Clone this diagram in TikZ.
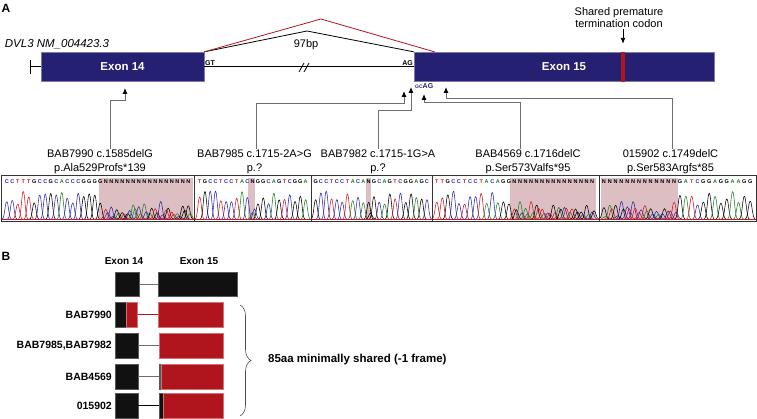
\documentclass[tikz,border=0pt]{standalone}
\usepackage{fontspec}
\setmainfont{Liberation Sans}
\usetikzlibrary{arrows.meta,decorations.pathreplacing}

\definecolor{exonblue}{RGB}{37,32,114}
\definecolor{stopred}{RGB}{176,21,29}
\definecolor{seqshade}{RGB}{221,191,195}
\definecolor{colA}{RGB}{30,125,40}
\definecolor{colC}{RGB}{40,40,170}
\definecolor{colG}{RGB}{0,0,0}
\definecolor{colT}{RGB}{210,20,30}
\definecolor{colN}{RGB}{0,0,0}
\definecolor{boxblack}{RGB}{17,17,17}
\definecolor{legray}{RGB}{110,110,110}

\pgfmathdeclarerandomlist{peakcols}{{colA}{colC}{colG}{colT}}

% one chromatogram peak: x, half width, height, colour
\newcommand{\peakat}[4]{%
  \draw[peak, color=#4] ({#1-#2},219) .. controls ({#1-0.45*#2},219) and ({#1-0.35*#2},{219-#3}) .. ({#1},{219-#3}) .. controls ({#1+0.35*#2},{219-#3}) and ({#1+0.45*#2},219) .. ({#1+#2},219);}

% bases and trace of one panel: start x, spacing, bases
\newcommand{\seqtrace}[3]{%
  \foreach \b [count=\i] in {#3} {
    \pgfmathsetmacro{\xx}{#1+(\i-0.5)*#2}
    \pgfmathsetmacro{\hw}{0.85*#2}
    \node[basetxt, text=col\b] at (\xx,182) {\b};
    \if\b N
      \pgfmathrandomitem{\pa}{peakcols}
      \pgfmathrandomitem{\pb}{peakcols}
      \pgfmathsetmacro{\ha}{5+13*rnd}
      \pgfmathsetmacro{\hb}{3+8*rnd}
      \pgfmathsetmacro{\xb}{\xx+0.35*#2}
      \peakat{\xx}{\hw}{\ha}{\pa}
      \peakat{\xb}{\hw}{\hb}{\pb}
    \else
      \pgfmathsetmacro{\ha}{14+14*rnd}
      \peakat{\xx}{\hw}{\ha}{col\b}
    \fi
  }
}

\tikzset{
  exon/.style={fill=exonblue, draw=exonblue!60, inner sep=0pt, minimum height=29.5pt,
    text=white, font=\fontsize{11.5}{12}\selectfont\bfseries},
  mutlabel/.style={align=center, inner sep=1pt, font=\fontsize{11}{14}\selectfont},
  mutarrow/.style={draw=legray, line width=0.9pt, -{Latex[length=6pt,width=5pt,color=black]}},
  sitetxt/.style={inner sep=0pt, font=\fontsize{7}{7}\selectfont\bfseries},
  basetxt/.style={inner sep=0pt, font=\fontsize{5.5}{5.5}\selectfont\bfseries},
  peak/.style={line width=0.55pt, line join=round},
  panel/.style={draw=black!80, line width=0.6pt},
  blk/.style={fill=boxblack, draw=boxblack!70, inner sep=0pt, minimum height=24.5pt, anchor=west},
  redbox/.style={fill=stopred, draw=stopred!60, inner sep=0pt, minimum height=24.5pt, anchor=west},
  rowlabel/.style={anchor=east, inner sep=0pt, font=\fontsize{10.5}{12}\selectfont\bfseries},
  hdr/.style={inner sep=0pt, font=\fontsize{10}{12}\selectfont\bfseries},
  panellabel/.style={inner sep=0pt, font=\fontsize{12}{12}\selectfont\bfseries}
}

\begin{document}
\begin{tikzpicture}[x=1pt,y=-1pt]
\useasboundingbox (0,0) rectangle (757,419);
\pgfmathsetseed{42}

% ---- panel A: gene model
\node[panellabel] (labA) at (6,8.5) {A};
\node[inner sep=0pt, font=\fontsize{11.5}{12}\selectfont\itshape] (gene) at (57,44.5) {DVL3 NM\_004423.3};

\node[exon, minimum width=163pt] (ex14) at (122.5,66.8) {Exon 14};
\node[exon, minimum width=300pt] (ex15) at (564,66.8) {Exon 15};
\node[fill=stopred, inner sep=0pt, minimum width=4pt, minimum height=29.5pt] (stopbar) at (623,66.8) {};

\coordinate (tss) at (30,66.8);
\draw[line width=0.8pt] (30,60) -- (30,74);
\draw[line width=0.8pt] (tss) -- (ex14.west);
\draw[line width=0.9pt] (ex14.east) -- (ex15.west);
\draw[line width=0.8pt] (299,72) -- (304,63) (304,72) -- (309,63);

\node[sitetxt, anchor=west] (gt) at (205,63.5) {GT};
\node[sitetxt, anchor=east] (ag) at (413,63.5) {AG};
\node[sitetxt, anchor=west, text=exonblue] (gcag) at (415,86) {{\fontsize{5}{5}\selectfont GC}AG};

% splicing
\coordinate (blackpeak) at (307,31);
\coordinate (redpeak) at (321,19);
\coordinate (redend) at (435,52);
\draw[line width=0.8pt] (ex14.north east) -- (blackpeak) -- (ex15.north west);
\draw[stopred, line width=0.8pt] (ex14.north east) -- (redpeak) -- (redend);
\node[mutlabel] (intron) at (306,44.5) {97bp};

\node[mutlabel, font=\fontsize{11}{12}\selectfont] (stopnote) at (619,18) {Shared premature\\termination codon};
\draw[line width=0.9pt, -{Latex[length=6pt,width=5pt]}] (stopnote.south -| stopbar) -- ([yshift=8pt]stopbar.north);

% ---- mutations
\node[mutlabel] (m7990) at (100,162) {BAB7990 c.1585delG\\p.Ala529Profs*139};
\node[mutlabel] (m7985) at (254.5,162) {BAB7985 c.1715-2A>G\\p.?};
\node[mutlabel] (m7982) at (378,162) {BAB7982 c.1715-1G>A\\p.?};
\node[mutlabel] (m4569) at (528,162) {BAB4569 c.1716delC\\p.Ser573Valfs*95};
\node[mutlabel] (m5902) at (670.5,162) {015902 c.1749delC\\p.Ser583Argfs*85};

\coordinate (s7990) at (110,100);  \coordinate (t7990) at (125,88);
\coordinate (s7985) at (256,103);  \coordinate (t7985) at (404,91);
\coordinate (s7982) at (378,110);  \coordinate (t7982) at (411,87);
\coordinate (s4569) at (520,102);  \coordinate (t4569) at (424,94);
\coordinate (s5902) at (672,98);   \coordinate (t5902) at (446,87);

\draw[mutarrow] (m7990.north -| s7990) -- (s7990) -| (t7990);
\draw[mutarrow] (m7985.north -| s7985) -- (s7985) -| (t7985);
\draw[mutarrow] (m7982.north -| s7982) -- (s7982) -| (t7982);
\draw[mutarrow] (m4569.north -| s4569) -- (s4569) -| (t4569);
\draw[mutarrow] (m5902.north -| s5902) -- (s5902) -| (t5902);

% ---- chromatograms
\fill[seqshade] (99,178) rectangle (193,220);
\fill[seqshade] (248,178) rectangle (255,220);
\fill[seqshade] (366,178) rectangle (371,220);
\fill[seqshade] (510,178) rectangle (596,220);
\fill[seqshade] (601,178) rectangle (678,220);

\seqtrace{4}{5.5}{C,C,T,T,T,G,C,C,G,C,A,C,C,C,G,G,G,G,N,N,N,N,N,N,N,N,N,N,N,N,N,N,N,N}
\seqtrace{197}{5.3}{T,G,C,C,T,C,C,T,A,C,N,G,G,C,A,G,T,C,G,G,A}
\seqtrace{313}{5.3}{G,C,C,T,C,C,T,A,C,A,N,G,C,A,G,T,C,G,G,A,G,C}
\seqtrace{434}{5.55}{T,T,G,C,C,T,C,C,T,A,C,A,G,G,N,N,N,N,N,N,N,N,N,N,N,N,N,N,N}
\seqtrace{601}{5.85}{N,N,N,N,N,N,N,N,N,N,N,N,N,G,A,T,C,G,G,A,G,G,A,A,G,G}

\draw[colT, line width=0.6pt] (1,219.5) -- (756,219.5);
\draw[panel] (1,175) rectangle (194,221);
\draw[panel] (194,175) rectangle (311,221);
\draw[panel] (311,175) rectangle (432,221);
\draw[panel] (432,175) rectangle (599,221);
\draw[panel] (599,175) rectangle (756,221);

% ---- panel B: transcripts
\node[panellabel] (labB) at (6,256) {B};
\node[hdr] (h14) at (124,261) {Exon 14};
\node[hdr] (h15) at (199,261) {Exon 15};

\node[blk, minimum width=24pt] (r0a) at (115,284) {};
\node[blk, minimum width=79pt] (r0b) at (158,284) {};
\draw[legray, line width=0.8pt] (r0a.east) -- (r0b.west);

\node[rowlabel] (n7990) at (112,314.5) {BAB7990};
\node[blk, minimum width=11pt] (r1a) at (115,314.5) {};
\node[redbox, minimum width=11pt] (r1b) at (r1a.east) {};
\node[redbox, minimum width=65pt] (r1c) at (158,314.5) {};
\draw[stopred, line width=0.8pt] (r1b.east) -- (r1c.west);

\node[rowlabel] (n7985) at (112,345.5) {BAB7985,BAB7982};
\node[blk, minimum width=23pt] (r2a) at (115,345.5) {};
\node[redbox, minimum width=64pt] (r2b) at (159,345.5) {};
\draw[legray, line width=0.8pt] (r2a.east) -- (r2b.west);

\node[rowlabel] (n4569) at (112,376.5) {BAB4569};
\node[blk, minimum width=23pt] (r3a) at (115,376.5) {};
\node[blk, minimum width=1.2pt] (r3s) at (159,376.5) {};
\node[redbox, minimum width=62.5pt] (r3b) at (r3s.east) {};
\draw[legray, line width=0.8pt] (r3a.east) -- (r3s.west);

\node[rowlabel] (n5902) at (112,405.5) {015902};
\node[blk, minimum width=23pt] (r4a) at (115,405.5) {};
\node[blk, minimum width=4pt] (r4s) at (159,405.5) {};
\node[redbox, minimum width=60pt] (r4b) at (r4s.east) {};
\draw[line width=0.8pt] (r4a.east) -- (r4s.west);

\draw[legray!70!black, line width=0.6pt, decorate, decoration={brace, amplitude=11pt}] (240,305) -- (240,416);
\node[anchor=west, inner sep=0pt, font=\fontsize{11.5}{12}\selectfont\bfseries] (shared) at (268,360) {85aa minimally shared (-1 frame)};
\end{tikzpicture}
\end{document}
